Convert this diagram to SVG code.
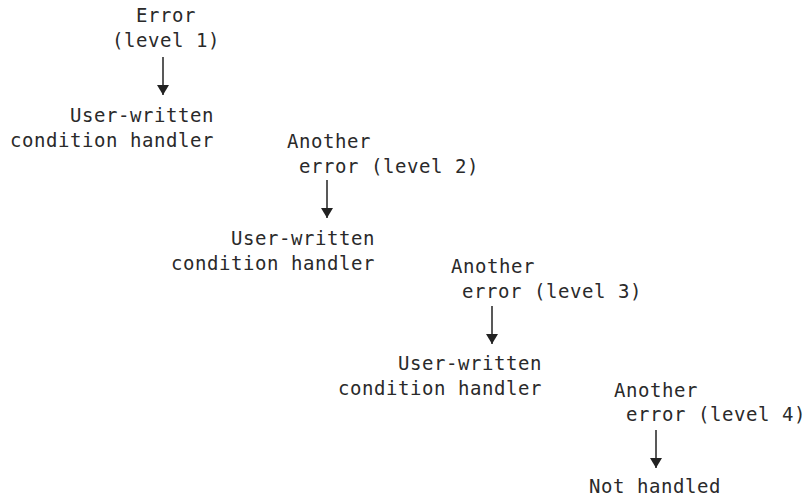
<svg xmlns="http://www.w3.org/2000/svg" width="806" height="502" viewBox="0 0 806 502">
<style>
text{font-family:"DejaVu Sans Mono","Liberation Mono",monospace;font-size:19px;letter-spacing:0.56px;fill:#2a2a2a}
.c{stroke:#222;stroke-width:1.5;fill:none}
</style>
<defs>
<marker id="ah" markerWidth="10" markerHeight="12" refX="10" refY="6" orient="auto" markerUnits="userSpaceOnUse">
<path d="M0,0 L10,6 L0,12 Z" fill="#222"/>
</marker>
</defs>
<rect width="806" height="502" fill="#fff"/>
<g id="n1"><text x="136" y="22">Error</text><text x="112" y="47">(level 1)</text></g>
<g id="n2"><text x="70" y="122">User-written</text><text x="10" y="147">condition handler</text></g>
<g id="n3"><text x="287" y="148">Another</text><text x="299" y="173">error (level 2)</text></g>
<g id="n4"><text x="231" y="245">User-written</text><text x="171" y="270">condition handler</text></g>
<g id="n5"><text x="451" y="273">Another</text><text x="462" y="298">error (level 3)</text></g>
<g id="n6"><text x="398" y="370">User-written</text><text x="338" y="395">condition handler</text></g>
<g id="n7"><text x="614" y="397">Another</text><text x="626" y="421">error (level 4)</text></g>
<g id="n8"><text x="589" y="493">Not handled</text></g>
<g id="connectors">
<line class="c" x1="163" y1="57" x2="163" y2="95" marker-end="url(#ah)"/>
<line class="c" x1="327" y1="180" x2="327" y2="218" marker-end="url(#ah)"/>
<line class="c" x1="492" y1="306" x2="492" y2="344" marker-end="url(#ah)"/>
<line class="c" x1="656" y1="430" x2="656" y2="468" marker-end="url(#ah)"/>
</g>
</svg>
